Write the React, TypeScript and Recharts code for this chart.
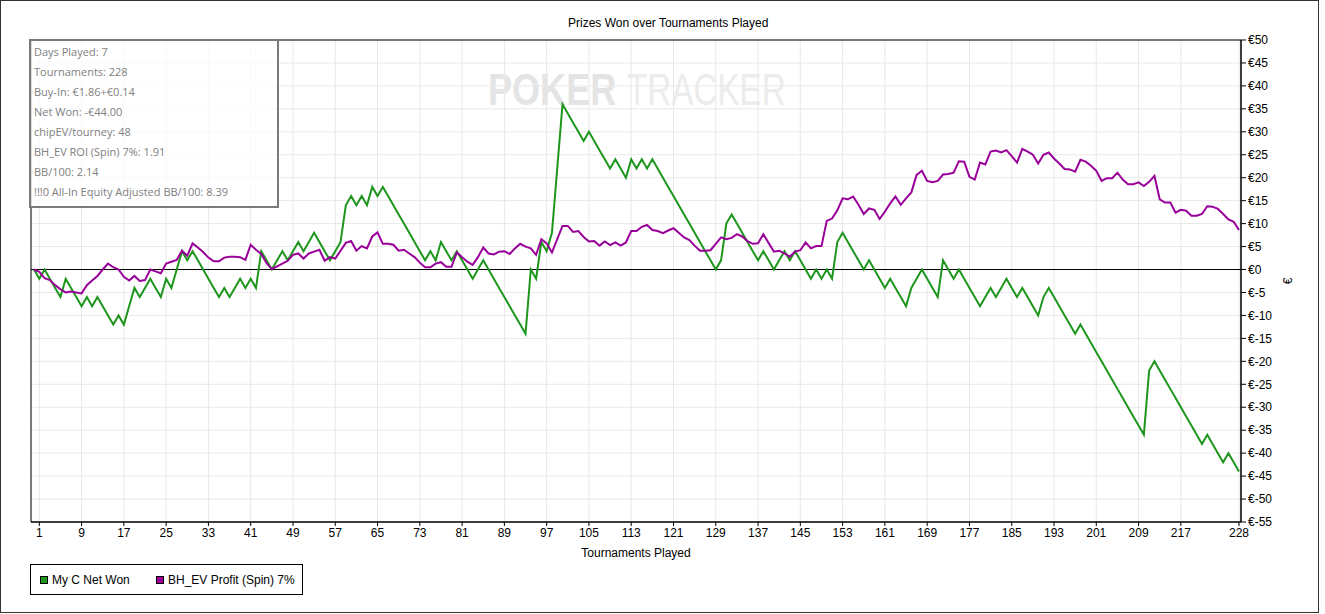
import React from 'react';
import { LineChart, Line, XAxis, YAxis, CartesianGrid, ReferenceLine, ReferenceArea } from 'recharts';

// Cumulative net won (€) per tournament, index 0 = start
const netWon = [
  0, -2, 0, -2, -4, -6, -2, -4, -6, -8,
  -6, -8, -6, -8, -10, -12, -10, -12, -8, -4,
  -6, -4, -2, -4, -6, -2, -4, 0, 4, 2,
  4, 2, 0, -2, -4, -6, -4, -6, -4, -2,
  -4, -2, -4, 4, 2, 0, 2, 4, 2, 4,
  6, 4, 6, 8, 6, 4, 2, 4, 6, 14,
  16, 14, 16, 14, 18, 16, 18, 16, 14, 12,
  10, 8, 6, 4, 2, 4, 2, 6, 4, 2,
  4, 2, 0, -2, 0, 2, 0, -2, -4, -6,
  -8, -10, -12, -14, 0, -2, 6, 4, 8, 22,
  36, 34, 32, 30, 28, 30, 28, 26, 24, 22,
  24, 22, 20, 24, 22, 24, 22, 24, 22, 20,
  18, 16, 14, 12, 10, 8, 6, 4, 2, 0,
  2, 10, 12, 10, 8, 6, 4, 2, 4, 2,
  0, 2, 4, 2, 4, 2, 0, -2, 0, -2,
  0, -2, 6, 8, 6, 4, 2, 0, 2, 0,
  -2, -4, -2, -4, -6, -8, -4, -2, 0, -2,
  -4, -6, 2, 0, -2, 0, -2, -4, -6, -8,
  -6, -4, -6, -4, -2, -4, -6, -4, -6, -8,
  -10, -6, -4, -6, -8, -10, -12, -14, -12, -14,
  -16, -18, -20, -22, -24, -26, -28, -30, -32, -34,
  -36, -22, -20, -22, -24, -26, -28, -30, -32, -34,
  -36, -38, -36, -38, -40, -42, -40, -42, -44,
];

// BH_EV Profit (Spin) 7% (€) per tournament
const bhEvProfit = [
  0, -0.5, -1.9, -2.3, -3.4, -4.3, -5.0, -4.8, -5.0, -5.2,
  -3.4, -2.4, -1.4, 0, 1.3, 0.5, 0, -1.6, -2.4, -1.4,
  -2.5, -2.3, 0, -0.4, -0.8, 1.3, 1.7, 2.1, 4.1, 3.0,
  5.7, 4.8, 3.8, 2.6, 1.8, 1.8, 2.6, 2.8, 2.8, 2.7,
  2.1, 5.4, 4.3, 3.4, 1.4, 0.1, 0.7, 1.3, 1.9, 3.2,
  3.5, 2.4, 3.5, 3.9, 4.3, 1.9, 2.7, 2.4, 4.1, 5.8,
  6.2, 4.1, 5.1, 4.6, 7.2, 8.1, 5.6, 5.6, 5.4, 4.1,
  4.3, 3.5, 2.7, 1.5, 0.5, 0.5, 1.3, 1.6, 0.6, 0.6,
  3.7, 2.7, 1.7, 1.0, 2.7, 4.8, 3.5, 3.3, 3.9, 4.0,
  3.4, 4.6, 5.6, 5.0, 4.6, 3.2, 6.6, 5.7, 3.7, 6.6,
  9.5, 9.5, 8.2, 8.4, 7.1, 6.1, 6.2, 5.2, 6.1, 5.3,
  5.9, 5.2, 5.9, 8.4, 8.4, 9.3, 9.7, 8.6, 8.4, 7.9,
  8.5, 9.0, 8.0, 7.0, 6.4, 5.2, 4.1, 4.1, 4.2, 5.6,
  7.0, 6.6, 6.9, 7.7, 7.2, 6.2, 5.6, 5.7, 7.7, 5.8,
  3.9, 4.1, 3.5, 2.8, 3.9, 4.2, 5.9, 4.6, 5.1, 5.1,
  10.6, 11.1, 12.9, 15.5, 15.3, 15.9, 14.1, 12.1, 13.3, 13.0,
  11.0, 12.6, 14.4, 15.9, 14.1, 15.5, 16.8, 20.6, 21.5, 19.3,
  19.0, 19.3, 20.7, 20.8, 21.1, 23.6, 23.5, 20.2, 19.6, 23.3,
  22.9, 25.7, 25.9, 25.5, 26.0, 24.7, 23.3, 26.3, 25.7, 25.0,
  23.1, 25.0, 25.5, 24.2, 23.1, 21.9, 21.8, 21.3, 23.9, 23.5,
  22.6, 21.5, 19.3, 19.9, 19.9, 21.1, 19.6, 18.6, 18.6, 19.0,
  18.2, 19.1, 20.4, 15.3, 14.6, 14.6, 12.4, 13.0, 12.8, 11.7,
  11.7, 12.1, 13.8, 13.7, 13.2, 12.1, 10.9, 10.4, 8.6,
];

const xTicks = [1, 9, 17, 25, 33, 41, 49, 57, 65, 73, 81, 89, 97, 105, 113, 121, 129, 137, 145, 153, 161, 169, 177, 185, 193, 201, 209, 217, 228];
const yTicks = [50, 45, 40, 35, 30, 25, 20, 15, 10, 5, 0, -5, -10, -15, -20, -25, -30, -35, -40, -45, -50, -55];

const infoLines = [
  'Days Played: 7',
  'Tournaments: 228',
  'Buy-In: €1.86+€0.14',
  'Net Won: -€44.00',
  'chipEV/tourney: 48',
  'BH_EV ROI (Spin) 7%: 1.91',
  'BB/100: 2.14',
  '!!!0 All-In Equity Adjusted BB/100: 8.39',
];

const seriesNames = ['My C Net Won', 'BH_EV Profit (Spin) 7%'];
const seriesColors = ['#1e961e', '#990099'];

const data = netWon.map((v, i) => ({ t: i, net: v, ev: bhEvProfit[i] }));

const FONT = '"Liberation Sans", Arial, sans-serif';

export default function App() {
  const xLabel = (props: any) => {
    const vb = props && props.viewBox ? props.viewBox : { x: 31, y: 522, width: 1210, height: 30 };
    return (
      <text x={vb.x + vb.width / 2} y={vb.y + 35} textAnchor="middle" fontSize={12} fill="#000" fontFamily={FONT}>
        Tournaments Played
      </text>
    );
  };
  const yLabel = (props: any) => {
    const vb = props && props.viewBox ? props.viewBox : { x: 1241, y: 40, width: 50, height: 482 };
    const cx = vb.x + 51;
    const cy = vb.y + vb.height / 2;
    return (
      <text x={cx} y={cy} textAnchor="middle" fontSize={12} fill="#000" fontFamily={FONT} transform={`rotate(-90 ${cx} ${cy})`}>
        €
      </text>
    );
  };

  return (
    <div style={{ position: 'absolute', left: 0, top: 0, width: 1325, height: 614, background: '#fff', fontFamily: FONT, overflow: 'hidden' }}>
      <div style={{ position: 'absolute', left: 0, top: 0, width: 1319, height: 613, border: '1px solid #333', boxSizing: 'border-box' }} />
      <div style={{ position: 'absolute', left: 568, top: 16, fontSize: 12, lineHeight: '14px', color: '#000', whiteSpace: 'nowrap' }}>
        Prizes Won over Tournaments Played
      </div>
      <svg style={{ position: 'absolute', left: 0, top: 0 }} width={1325} height={130}>
        <g transform="translate(488 105) scale(0.82 1)">
          <text x={0} y={0} fontSize={44} fontWeight="bold" fill="#e4e4e4" fontFamily={FONT}>POKER</text>
        </g>
        <g transform="translate(627 105) scale(0.755 1)">
          <text x={0} y={0} fontSize={44} fill="#ececec" fontFamily={FONT}>TRACKER</text>
        </g>
      </svg>
      <div style={{ position: 'absolute', left: 0, top: 0 }}>
        <LineChart width={1325} height={614} data={data} margin={{ top: 40, right: 34, bottom: 62, left: 31 }}>
          <CartesianGrid stroke="#e8e8e8" strokeWidth={1} />
          <XAxis
            dataKey="t"
            type="number"
            domain={[-0.57, 228.38]}
            ticks={xTicks}
            interval={0}
            height={30}
            tickSize={4}
            tickMargin={2}
            axisLine={{ stroke: '#000' }}
            tickLine={{ stroke: '#000' }}
            tick={{ fill: '#000', fontSize: 12, fontFamily: FONT }}
            label={xLabel}
          />
          <YAxis
            orientation="right"
            type="number"
            domain={[-55, 50]}
            ticks={yTicks}
            interval={0}
            width={50}
            tickSize={5}
            tickMargin={2}
            tickFormatter={(v: number) => `€${v}`}
            axisLine={{ stroke: '#000' }}
            tickLine={{ stroke: '#000' }}
            tick={{ fill: '#000', fontSize: 12, fontFamily: FONT }}
            label={yLabel}
          />
          <ReferenceArea x1={-0.57} x2={228.38} y1={-55} y2={50} fill="none" fillOpacity={0} stroke="#000" strokeWidth={1} />
          <ReferenceLine y={0} stroke="#000" strokeWidth={1} />
          <Line type="linear" dataKey="net" name={seriesNames[0]} stroke={seriesColors[0]} strokeWidth={2} dot={false} activeDot={false} isAnimationActive={false} />
          <Line type="linear" dataKey="ev" name={seriesNames[1]} stroke={seriesColors[1]} strokeWidth={2} dot={false} activeDot={false} isAnimationActive={false} />
        </LineChart>
      </div>
      <div style={{ position: 'absolute', left: 29, top: 39, width: 250, height: 169, border: '2px solid #7a7a7a', boxSizing: 'border-box', background: 'rgba(255,255,255,0.75)', paddingLeft: 3, paddingTop: 1 }}>
        {infoLines.map((s) => (
          <div key={s} style={{ fontFamily: '"Open Sans", "Noto Sans", sans-serif', fontSize: 11, lineHeight: '20px', color: '#808080', whiteSpace: 'nowrap' }}>{s}</div>
        ))}
      </div>
      <div style={{ position: 'absolute', left: 30, top: 564, width: 273, height: 31, border: '1px solid #000', boxSizing: 'border-box', background: '#fff' }}>
        {seriesNames.map((n, i) => (
          <div key={n} style={{ position: 'absolute', left: i === 0 ? 9 : 125, top: 7, height: 16, display: 'flex', alignItems: 'center', whiteSpace: 'nowrap' }}>
            <span style={{ display: 'inline-block', width: 8, height: 8, background: seriesColors[i], border: '1px solid #000', boxSizing: 'border-box', marginRight: 4 }} />
            <span style={{ fontSize: 12, color: '#000' }}>{n}</span>
          </div>
        ))}
      </div>
    </div>
  );
}
